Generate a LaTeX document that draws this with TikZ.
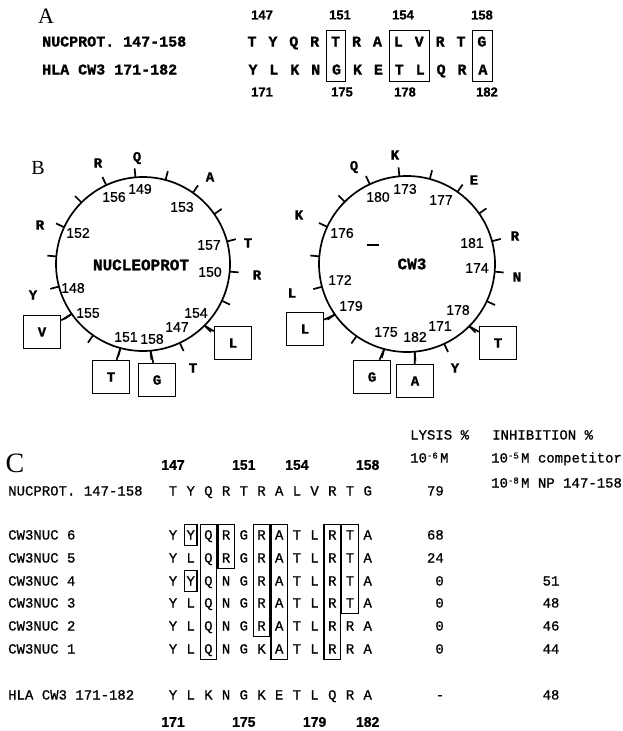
\documentclass[tikz,border=0pt]{standalone}
\usepackage{fontspec}
\usepackage{tikz}
\usetikzlibrary{calc, fit}
\newfontfamily\seqfont[FakeBold=1.2]{Liberation Mono Bold}
\newfontfamily\seqmed[FakeBold=0.8]{Liberation Mono}
\newfontfamily\numfont[FakeBold=0.6]{Liberation Sans Bold}
\newfontfamily\nummed[FakeBold=0.8]{Liberation Sans}
\newfontfamily\panelfont{Liberation Serif}

\begin{document}
\begin{tikzpicture}[x=1pt, y=-1pt,
    panel/.style={font=\panelfont, inner sep=0pt},
    seqA/.style={font={\seqfont\fontsize{15}{15}\selectfont}, inner sep=0pt, text height=9pt, text depth=0pt},
    numA/.style={font={\numfont\fontsize{13}{13}\selectfont}, inner sep=0pt},
    wheel/.style={line width=1.7pt},
    outres/.style={font={\seqfont\fontsize{14}{14}\selectfont}, inner sep=0pt},
    wheelnum/.style={font={\nummed\fontsize{14}{14}\selectfont}, inner sep=0pt},
    wheelname/.style={font={\seqfont\fontsize{16}{16}\selectfont}, inner sep=0pt},
    resbox/.style={draw, line width=1.5pt, minimum width=37pt, minimum height=33pt, font={\seqfont\fontsize{14}{14}\selectfont}},
    seqC/.style={font={\seqmed\fontsize{14}{14}\selectfont}, inner sep=0pt, text height=9pt, text depth=0pt},
    numC/.style={font={\numfont\fontsize{14}{14}\selectfont}, inner sep=0pt},
    cbox/.style={draw, line width=1.3pt, inner xsep=3.8pt, inner ysep=5.5pt},
  ]
    \useasboundingbox (0,0) rectangle (622,731);

    % Panel A
    \node[panel] (labA) at (46,16) {\fontsize{22}{22}\selectfont A};
    \node[seqA, anchor=west] (nucA) at (42,42) {NUCPROT. 147-158};
    \node[seqA, anchor=west] (hlaA) at (42,70) {HLA CW3 171-182};
    \foreach \res [count=\c] in {T,Y,Q,R,T,R,A,L,V,R,T,G}
      \node[seqA] (a1-\c) at (252+20.9*\c-20.9, 42) {\res};
    \foreach \res [count=\c] in {Y,L,K,N,G,K,E,T,L,Q,R,A}
      \node[seqA] (a2-\c) at (253+20.9*\c-20.9, 70) {\res};
    \foreach \num/\xx in {147/262, 151/340, 154/403, 158/482}
      \node[numA] (at\num) at (\xx,15) {\num};
    \foreach \num/\xx in {171/262, 175/342, 178/405, 182/487}
      \node[numA] (ab\num) at (\xx,92) {\num};
    \node[draw, line width=1.2pt, inner xsep=4.5pt, inner ysep=7pt, fit=(a1-5)(a2-5)] (boxA1) {};
    \node[draw, line width=1.2pt, inner xsep=4.5pt, inner ysep=7pt, fit=(a1-8)(a2-9)] (boxA2) {};
    \node[draw, line width=1.2pt, inner xsep=4.5pt, inner ysep=7pt, fit=(a1-12)(a2-12)] (boxA3) {};

    % Panel B, nucleoprotein wheel
    \node[panel] (labB) at (38,168) {\fontsize{20}{20}\selectfont B};
    \coordinate (nucc) at (143,264);
    \draw[wheel] (nucc) circle (87pt);
    \foreach \k in {0,...,17}
      \draw[wheel] ($(nucc)+({95+20*\k}:87pt)$) -- ($(nucc)+({95+20*\k}:96pt)$);
    \foreach \res/\xx/\yy [count=\i] in {Q/137/158, R/98/163, A/210/177, R/40/225, T/248/243, R/257/275, Y/33/295, T/193/368}
      \node[outres] (no\i) at (\xx,\yy) {\res};
    \foreach \num/\xx/\yy in {149/140/189, 156/114/197, 153/182/207, 152/78/233, 157/209/245, 150/210/272, 148/73/288, 155/88/313, 154/196/313, 147/177/327, 151/126/337, 158/152/339}
      \node[wheelnum] (nn\num) at (\xx,\yy) {\num};
    \foreach \res/\ang/\xx/\yy/\nm in {V/215/42/332/155, T/-105/111/377/151, G/-85/157/380/158, L/-45/233/343/154} {
      \node[resbox] (nb\nm) at (\xx,\yy) {\res};
      \coordinate (nw\nm) at ($(nucc)+(\ang:87pt)$);
      \draw[wheel] (nw\nm) -- (nb\nm);
    }
    \node[wheelname] (nucname) at (141,265) {NUCLEOPROT};

    % Panel B, CW3 wheel
    \coordinate (cwc) at (407,264);
    \draw[wheel] (cwc) circle (88pt);
    \foreach \k in {0,...,17}
      \draw[wheel] ($(cwc)+({95+20*\k}:88pt)$) -- ($(cwc)+({95+20*\k}:97pt)$);
    \foreach \res/\xx/\yy [count=\i] in {K/395/155, Q/354/167, E/474/180, K/299/215, R/515/236, N/517/277, L/292/293, Y/455/368}
      \node[outres] (co\i) at (\xx,\yy) {\res};
    \foreach \num/\xx/\yy in {173/405/189, 180/378/197, 177/441/200, 176/342/233, 181/472/243, 174/477/268, 172/340/280, 179/351/306, 178/458/310, 171/440/326, 175/386/332, 182/415/337}
      \node[wheelnum] (cn\num) at (\xx,\yy) {\num};
    \foreach \res/\ang/\xx/\yy/\nm in {L/215/305/329/179, G/-105/372/377/175, A/-85/415/381/182, T/-45/498/343/178} {
      \node[resbox] (cb\nm) at (\xx,\yy) {\res};
      \coordinate (cw\nm) at ($(cwc)+(\ang:88pt)$);
      \draw[wheel] (cw\nm) -- (cb\nm);
    }
    \node[wheelname] (cwname) at (412,264) {CW3};
    \draw[line width=2.5pt] (367,245) -- (379,245);

    % Panel C
    \node[panel] (labC) at (15,463) {\fontsize{28}{28}\selectfont C};
    \node[seqC, anchor=west] (hlys) at (410,435) {LYSIS \%};
    \node[seqC, anchor=west] (hinh) at (492,435) {INHIBITION \%};
    \node[seqC, anchor=west] (hmol) at (410,458) {10\raisebox{4pt}{\fontsize{9}{9}\selectfont -6}\,M};
    \node[seqC, anchor=west] (hcomp) at (491,458) {10\raisebox{4pt}{\fontsize{9}{9}\selectfont -5}\,M competitor};
    \node[seqC, anchor=west] (hnp) at (491,483) {10\raisebox{4pt}{\fontsize{9}{9}\selectfont -8}\,M NP 147-158};
    \foreach \num/\c in {147/1, 151/5, 154/8, 158/12}
      \node[numC] (ct\num) at (173+17.7*\c-17.7, 465) {\num};
    \foreach \row/\yy/\lbl/\seq in {n/491/{NUCPROT. 147-158}/{T,Y,Q,R,T,R,A,L,V,R,T,G},
        6/535/{CW3NUC 6}/{Y,Y,Q,R,G,R,A,T,L,R,T,A},
        5/558/{CW3NUC 5}/{Y,L,Q,R,G,R,A,T,L,R,T,A},
        4/581/{CW3NUC 4}/{Y,Y,Q,N,G,R,A,T,L,R,T,A},
        3/603/{CW3NUC 3}/{Y,L,Q,N,G,R,A,T,L,R,T,A},
        2/626/{CW3NUC 2}/{Y,L,Q,N,G,R,A,T,L,R,R,A},
        1/649/{CW3NUC 1}/{Y,L,Q,N,G,K,A,T,L,R,R,A},
        h/695/{HLA CW3 171-182}/{Y,L,K,N,G,K,E,T,L,Q,R,A}} {
      \node[seqC, anchor=west] (lab\row) at (8,\yy) {\lbl};
      \foreach \res [count=\c] in \seq
        \node[seqC] (c\row-\c) at (173+17.7*\c-17.7, \yy) {\res};
    }
    \foreach \num/\c in {171/1, 175/5, 179/9, 182/12}
      \node[numC] (cb\num) at (173+17.7*\c-17.7, 722) {\num};
    \foreach \yy/\val [count=\i] in {491/79, 535/68, 558/24, 581/0, 603/0, 626/0, 649/0}
      \node[seqC, anchor=east] (ly\i) at (444,\yy) {\val};
    \node[seqC] (lyh) at (440,695) {-};
    \foreach \yy/\val [count=\i] in {581/51, 603/48, 626/46, 649/44, 695/48}
      \node[seqC] (in\i) at (551,\yy) {\val};
    \foreach \top/\bot/\c in {6/1/3, 6/5/4, 6/2/6, 6/1/7, 6/1/10, 6/3/11}
      \node[cbox, fit=(c\top-\c)(c\bot-\c)] (bx\c) {};
    \foreach \r in {6,4}
      \node[cbox, inner xsep=2pt, fit=(c\r-2)] (by\r) {};
  \end{tikzpicture}
\end{document}
